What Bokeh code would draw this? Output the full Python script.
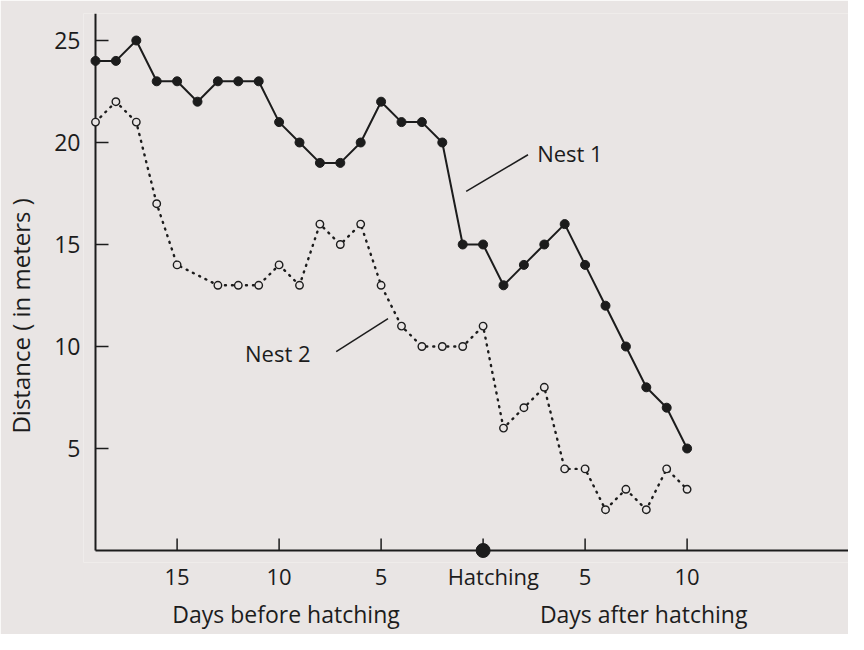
from bokeh.plotting import figure
from bokeh.models import Range1d, FixedTicker, Label, LinearAxis
from bokeh.embed import file_html
from bokeh.resources import INLINE

# ---- data ----
days_nest1 = [-19, -18, -17, -16, -15, -14, -13, -12, -11, -10, -9, -8, -7, -6, -5,
              -4, -3, -2, -1, 0, 1, 2, 3, 4, 5, 6, 7, 8, 9, 10]
dist_nest1 = [24, 24, 25, 23, 23, 22, 23, 23, 23, 21, 20, 19, 19, 20, 22,
              21, 21, 20, 15, 15, 13, 14, 15, 16, 14, 12, 10, 8, 7, 5]
days_nest2 = [-19, -18, -17, -16, -15, -13, -12, -11, -10, -9, -8, -7, -6, -5,
              -4, -3, -2, -1, 0, 1, 2, 3, 4, 5, 6, 7, 8, 9, 10]
dist_nest2 = [21, 22, 21, 17, 14, 13, 13, 13, 14, 13, 16, 15, 16, 13,
              11, 10, 10, 10, 11, 6, 7, 8, 4, 4, 2, 3, 2, 4, 3]
hatching_day = [0]
hatching_dist = [0]
x_ticks = [-15, -10, -5, 0, 5, 10]
x_tick_label_pos = [-15, -10, -5, 0.5, 5, 10]
x_tick_labels = ["15", "10", "5", "Hatching", "5", "10"]
y_ticks = [5, 10, 15, 20, 25]

# axis titles placed through extra axes (positions in data units)
x_title_pos = [-9.66, 7.87]
x_title_text = ["Days before hatching", "Days after hatching"]
y_title_pos = [11.5]
y_title_text = ["Distance ( in meters )"]

# series labels with leader lines (data units)
nest_labels = ["Nest 1", "Nest 2"]
nest_label_x = [2.65, -11.67]
nest_label_y = [19.5, 9.66]
leader_x0 = [2.2, -7.2]
leader_y0 = [19.4, 9.75]
leader_x1 = [-0.83, -4.66]
leader_y1 = [17.6, 11.37]

BG = "#e9e5e4"
INK = "#1c1c1c"
FONT = "Open Sans"
PX = 20.4  # pixels per unit (both axes)
X_ORIGIN = -19  # where the y axis line sits
PAD = 12  # px of frame beyond the drawn axis lines

W, H = 848, 634
LEFT, RIGHT, TOP, BOTTOM = 83, 0, 13, 72
x0 = X_ORIGIN - PAD / PX
y0 = -PAD / PX
x1 = x0 + (W - LEFT - RIGHT) / PX
y1 = y0 + (H - TOP - BOTTOM) / PX

p = figure(width=W, height=H, output_backend="svg", toolbar_location=None,
           x_range=Range1d(x0, x1), y_range=Range1d(y0, y1),
           min_border_left=LEFT, min_border_right=RIGHT,
           min_border_top=TOP, min_border_bottom=BOTTOM)
p.background_fill_color = BG
p.border_fill_color = BG
p.outline_line_color = None
p.xgrid.visible = False
p.ygrid.visible = False


def label_only(axis, size, standoff):
    axis.axis_line_color = None
    axis.major_tick_line_color = None
    axis.minor_tick_line_color = None
    axis.major_tick_in = 0
    axis.major_tick_out = 0
    axis.major_label_text_font = FONT
    axis.major_label_text_font_size = size
    axis.major_label_text_color = INK
    axis.major_label_standoff = standoff


xa = p.xaxis[0]
xa.ticker = FixedTicker(ticks=x_tick_label_pos)
xa.major_label_overrides = {t: l for t, l in zip(x_tick_label_pos, x_tick_labels)}
label_only(xa, "22px", -2)

ya = p.yaxis[0]
ya.ticker = FixedTicker(ticks=y_ticks)
label_only(ya, "23px", 3)

xt = LinearAxis(ticker=FixedTicker(ticks=x_title_pos),
                major_label_overrides={t: l for t, l in zip(x_title_pos, x_title_text)})
label_only(xt, "23px", 4)
p.add_layout(xt, "below")

yt = LinearAxis(ticker=FixedTicker(ticks=y_title_pos),
                major_label_overrides={t: l for t, l in zip(y_title_pos, y_title_text)},
                major_label_orientation="vertical")
label_only(yt, "24px", 14)
p.add_layout(yt, "left")

# axis lines and inward ticks, drawn in data space
p.segment(x0=[X_ORIGIN, X_ORIGIN], y0=[0, 0], x1=[x1, X_ORIGIN], y1=[0, y1],
          line_color=INK, line_width=2)
p.segment(x0=x_ticks, y0=[0] * len(x_ticks), x1=x_ticks,
          y1=[12 / PX] * len(x_ticks), line_color=INK, line_width=1.5)
p.segment(x0=[X_ORIGIN] * len(y_ticks), y0=y_ticks,
          x1=[X_ORIGIN + 13 / PX] * len(y_ticks), y1=y_ticks,
          line_color=INK, line_width=1.5)

# Nest 1: solid line, filled dots
p.line(days_nest1, dist_nest1, line_color=INK, line_width=2)
p.scatter(days_nest1, dist_nest1, size=9, fill_color=INK, line_color=INK)

# Nest 2: dotted line, open circles
p.line(days_nest2, dist_nest2, line_color=INK, line_width=2.4,
       line_dash="1 6", line_cap="round")
p.scatter(days_nest2, dist_nest2, size=7.5, fill_color=BG, line_color=INK,
          line_width=1.4)

# hatching marker on the axis
p.scatter(hatching_day, hatching_dist, size=14, fill_color=INK, line_color=INK)

# leader lines + series labels
p.segment(x0=leader_x0, y0=leader_y0, x1=leader_x1, y1=leader_y1,
          line_color=INK, line_width=1.5)
for t, lx, ly in zip(nest_labels, nest_label_x, nest_label_y):
    p.add_layout(Label(x=lx, y=ly, text=t, text_font=FONT, text_font_size="22px",
                       text_color=INK, text_align="left", text_baseline="middle"))

open("out.html", "w").write(file_html(p, INLINE))
